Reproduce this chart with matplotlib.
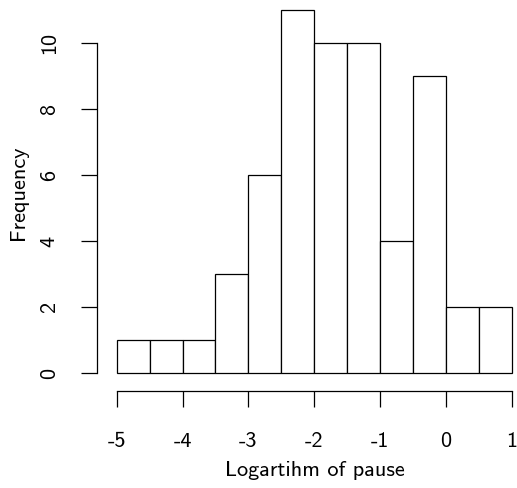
import numpy as np
import matplotlib.pyplot as plt

# histogram of log pauses, bins of width 0.5 from -5 to 1
bin_edges = [-5, -4.5, -4, -3.5, -3, -2.5, -2, -1.5, -1, -0.5, 0, 0.5, 1]
counts = [1, 1, 1, 3, 6, 11, 10, 10, 4, 9, 2, 2]
x_ticks = [-5, -4, -3, -2, -1, 0, 1]
y_ticks = [0, 2, 4, 6, 8, 10]

W, H = 517, 488
plt.rcParams['font.family'] = ['cmss10', 'DejaVu Sans']
plt.rcParams['axes.unicode_minus'] = False

fig = plt.figure(figsize=(W / 100, H / 100), dpi=100)

# pixel geometry
x0_px, x1_px = 116.7, 511.7   # -5 and 1
y0_px, y10_px = 373.3, 43.3   # 0 and 10
px_x = (x1_px - x0_px) / 6
px_y = (y0_px - y10_px) / 10
left_px, bottom_px = 97.0, 391.0

ax = fig.add_axes([left_px / W, 1 - bottom_px / H, (W - left_px) / W, bottom_px / H])
ax.set_xlim(-5 - (x0_px - left_px) / px_x, -5 + (W - x0_px) / px_x)
ax.set_ylim(-(bottom_px - y0_px) / px_y, y0_px / px_y)

widths = np.diff(bin_edges)
ax.bar(bin_edges[:-1], counts, width=widths, align='edge',
       facecolor='white', edgecolor='black', linewidth=0.9)

for s in ['top', 'right']:
    ax.spines[s].set_visible(False)
ax.spines['left'].set_bounds(0, 10)
ax.spines['bottom'].set_bounds(-5, 1)
for s in ['left', 'bottom']:
    ax.spines[s].set_linewidth(0.9)

ax.set_xticks(x_ticks)
ax.set_xticklabels([str(v) for v in x_ticks])
ax.set_yticks(y_ticks)
ax.set_yticklabels([str(v) for v in y_ticks], rotation=90, va='center')
ax.tick_params(axis='both', direction='out', length=11.5, width=0.9,
               labelsize=16)
ax.tick_params(axis='x', pad=18)
ax.tick_params(axis='y', pad=16)

fig.text(315 / W, 1 - 470 / H, 'Logartihm of pause', ha='center', va='center',
         fontsize=16)
fig.text(19 / W, 1 - 193 / H, 'Frequency', ha='center', va='center',
         rotation=90, fontsize=16)

fig.savefig('out.png', dpi=100)
